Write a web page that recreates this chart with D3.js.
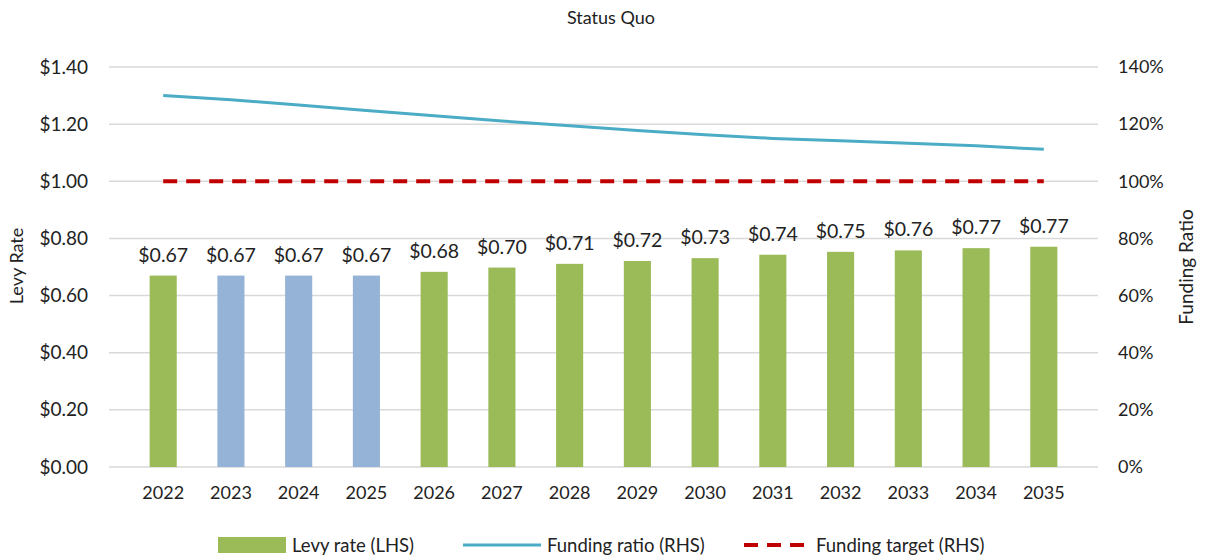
<html>
<script src='https://d3js.org/d3.v7.min.js'></script>
<style>
body { margin: 0; background: white; }
text { font-family: Lato, "Open Sans", sans-serif; fill: #222; }
</style>
<body>
<svg width="1205" height="560"></svg>
<script>
// data
var years = ["2022","2023","2024","2025","2026","2027","2028","2029","2030","2031","2032","2033","2034","2035"];
var levyRate = [0.67, 0.67, 0.67, 0.67, 0.683, 0.698, 0.711, 0.721, 0.731, 0.743, 0.753, 0.758, 0.766, 0.771];
var levyLabels = ["$0.67","$0.67","$0.67","$0.67","$0.68","$0.70","$0.71","$0.72","$0.73","$0.74","$0.75","$0.76","$0.77","$0.77"];
var fundingRatio = [1.300, 1.285, 1.267, 1.248, 1.229, 1.211, 1.194, 1.178, 1.163, 1.150, 1.142, 1.133, 1.124, 1.112];
var fundingTarget = [1, 1, 1, 1, 1, 1, 1, 1, 1, 1, 1, 1, 1, 1];
var projected = ["2023", "2024", "2025"];
var leftTicks = [0, 0.2, 0.4, 0.6, 0.8, 1.0, 1.2, 1.4];
var rightTicks = [0, 0.2, 0.4, 0.6, 0.8, 1.0, 1.2, 1.4];

var plotLeft = 109, plotRight = 1098, plotTop = 67, plotBottom = 467;
var svg = d3.select("svg");

var x = d3.scaleBand().domain(years).range([plotLeft, plotRight]).padding(0.6);
var y = d3.scaleLinear().domain([0, 1.4]).range([plotBottom, plotTop]);
var y2 = d3.scaleLinear().domain([0, 1.4]).range([plotBottom, plotTop]);

// gridlines
svg.append("g").selectAll("line")
    .data(leftTicks)
    .enter().append("line")
    .attr("x1", plotLeft).attr("x2", plotRight)
    .attr("y1", function(d) { return y(d); })
    .attr("y2", function(d) { return y(d); })
    .attr("stroke", "#d9d9d9")
    .attr("stroke-width", 1.5);

// left axis
var yAxis = d3.axisLeft(y).tickValues(leftTicks).tickSize(0).tickPadding(0)
    .tickFormat(function(d) { return "$" + d3.format(".2f")(d); });
var gl = svg.append("g").attr("transform", "translate(88,0)").call(yAxis);
gl.select(".domain").remove();
gl.selectAll("text").attr("font-size", "19px").attr("font-family", "Lato, sans-serif").attr("fill", "#222");

// right axis
var y2Axis = d3.axisRight(y2).tickValues(rightTicks).tickSize(0).tickPadding(0)
    .tickFormat(d3.format(".0%"));
var gr = svg.append("g").attr("transform", "translate(1118,0)").call(y2Axis);
gr.select(".domain").remove();
gr.selectAll("text").attr("font-size", "18px").attr("font-family", "Lato, sans-serif").attr("fill", "#222");

// x axis
var xAxis = d3.axisBottom(x).tickSize(0).tickPadding(0);
var gx = svg.append("g").attr("transform", "translate(0," + (plotBottom + 19) + ")").call(xAxis);
gx.select(".domain").remove();
gx.selectAll("text").attr("font-size", "18px").attr("font-family", "Lato, sans-serif").attr("fill", "#222");

// bars
svg.append("g").selectAll("rect")
    .data(years)
    .enter().append("rect")
    .attr("x", function(d) { return x(d); })
    .attr("width", x.bandwidth())
    .attr("y", function(d, i) { return y(levyRate[i]); })
    .attr("height", function(d, i) { return plotBottom - y(levyRate[i]); })
    .attr("fill", function(d) { return projected.indexOf(d) >= 0 ? "#95b3d7" : "#9bbb59"; });

// bar labels
svg.append("g").selectAll("text")
    .data(years)
    .enter().append("text")
    .attr("x", function(d) { return x(d) + x.bandwidth() / 2; })
    .attr("y", function(d, i) { return y(levyRate[i]) - 14; })
    .attr("text-anchor", "middle")
    .attr("font-size", "19.5px")
    .text(function(d, i) { return levyLabels[i]; });

var cx = function(d, i) { return x(years[i]) + x.bandwidth() / 2; };

// funding target
svg.append("path")
    .datum(fundingTarget)
    .attr("fill", "none")
    .attr("stroke", "#c00000")
    .attr("stroke-width", 4)
    .attr("stroke-dasharray", "14,9")
    .attr("d", d3.line().x(cx).y(function(d) { return y2(d); }));

// funding ratio
svg.append("path")
    .datum(fundingRatio)
    .attr("fill", "none")
    .attr("stroke", "#4bacc6")
    .attr("stroke-width", 3)
    .attr("d", d3.line().x(cx).y(function(d) { return y2(d); }));

// title
svg.append("text")
    .attr("x", 611).attr("y", 24)
    .attr("text-anchor", "middle")
    .attr("font-size", "18px")
    .text("Status Quo");

// axis titles
svg.append("text")
    .attr("transform", "translate(23,266) rotate(-90)")
    .attr("text-anchor", "middle")
    .attr("font-size", "18px")
    .text("Levy Rate");
svg.append("text")
    .attr("transform", "translate(1193,267) rotate(-90)")
    .attr("text-anchor", "middle")
    .attr("font-size", "19px")
    .text("Funding Ratio");

// legend
var lg = svg.append("g");
lg.append("rect").attr("x", 218).attr("y", 537).attr("width", 68).attr("height", 16).attr("fill", "#9bbb59");
lg.append("text").attr("x", 292).attr("y", 552).attr("font-size", "18.5px").text("Levy rate (LHS)");
lg.append("line").attr("x1", 463).attr("x2", 541).attr("y1", 545).attr("y2", 545)
    .attr("stroke", "#4bacc6").attr("stroke-width", 3);
lg.append("text").attr("x", 547).attr("y", 552).attr("font-size", "18.5px").text("Funding ratio (RHS)");
lg.append("line").attr("x1", 744).attr("x2", 810).attr("y1", 545).attr("y2", 545)
    .attr("stroke", "#c00000").attr("stroke-width", 4).attr("stroke-dasharray", "14,9");
lg.append("text").attr("x", 816).attr("y", 552).attr("font-size", "18.5px").text("Funding target (RHS)");
</script>
</body>
</html>
